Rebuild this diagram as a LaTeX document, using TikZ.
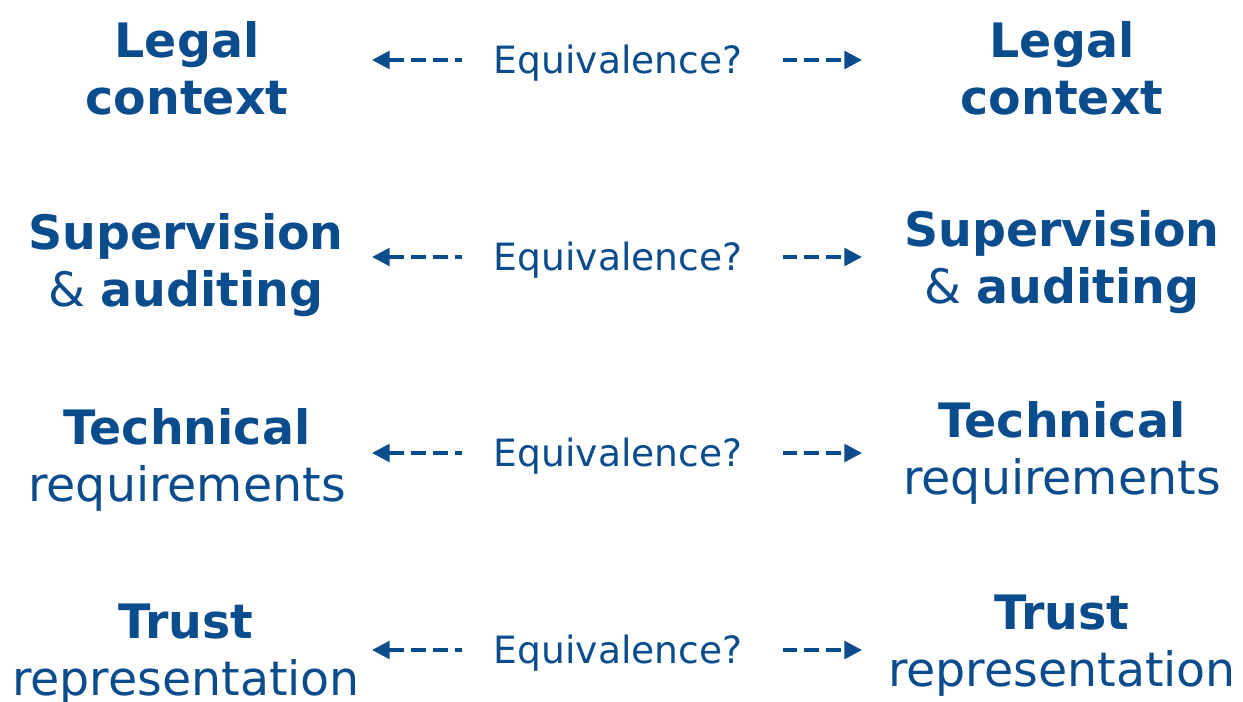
\documentclass[tikz,border=0pt]{standalone}
\usepackage{fontspec}
\setmainfont{DejaVu Sans}
\usepackage{xcolor}
\usetikzlibrary{arrows.meta}
\definecolor{eqblue}{RGB}{11,76,141}

\begin{document}
\begin{tikzpicture}[x=0.02cm, y=-0.02cm,
  side/.style={text=eqblue, align=center, inner sep=0pt, font=\fontsize{27}{32.5}\selectfont},
  eqlabel/.style={text=eqblue, inner sep=0pt, font=\fontsize{21.4}{25}\selectfont},
  eqline/.style={draw=eqblue, line width=2pt, dash pattern=on 8.5pt off 4pt},
  toleft/.style={eqline, {Triangle[length=10pt,width=10pt]}-, shorten >=0.62cm},
  toright/.style={eqline, -{Triangle[length=10pt,width=10pt]}, shorten <=0.8cm}]
\useasboundingbox (0,0) rectangle (1243,702);

% legal context
\node[side] (legalA) at (187,68) {\textbf{Legal}\\\textbf{context}};
\node[side] (legalB) at (1062,68) {\textbf{Legal}\\\textbf{context}};
\node[eqlabel] (eq1) at (618,63) {Equivalence?};
\coordinate (tipL1) at (372,60);
\coordinate (tipR1) at (862,60);
\draw[toleft] (tipL1) -- (eq1.west |- tipL1);
\draw[toright] (eq1.east |- tipR1) -- (tipR1);

% supervision
\node[side] (superA) at (186,265) {\textbf{Supervision}\\\& \textbf{auditing}};
\node[side] (superB) at (1062,262) {\textbf{Supervision}\\\& \textbf{auditing}};
\node[eqlabel] (eq2) at (618,260) {Equivalence?};
\coordinate (tipL2) at (372,257);
\coordinate (tipR2) at (862,257);
\draw[toleft] (tipL2) -- (eq2.west |- tipL2);
\draw[toright] (eq2.east |- tipR2) -- (tipR2);

% technical requirements
\node[side] (techA) at (187,460) {\textbf{Technical}\\requirements};
\node[side] (techB) at (1062,453) {\textbf{Technical}\\requirements};
\node[eqlabel] (eq3) at (618,456) {Equivalence?};
\coordinate (tipL3) at (372,453);
\coordinate (tipR3) at (862,453);
\draw[toleft] (tipL3) -- (eq3.west |- tipL3);
\draw[toright] (eq3.east |- tipR3) -- (tipR3);

% trust representation
\node[side] (trustA) at (186,655) {\textbf{Trust}\\representation};
\node[side] (trustB) at (1062,646) {\textbf{Trust}\\representation};
\node[eqlabel] (eq4) at (618,653) {Equivalence?};
\coordinate (tipL4) at (372,650);
\coordinate (tipR4) at (862,650);
\draw[toleft] (tipL4) -- (eq4.west |- tipL4);
\draw[toright] (eq4.east |- tipR4) -- (tipR4);
\end{tikzpicture}
\end{document}
